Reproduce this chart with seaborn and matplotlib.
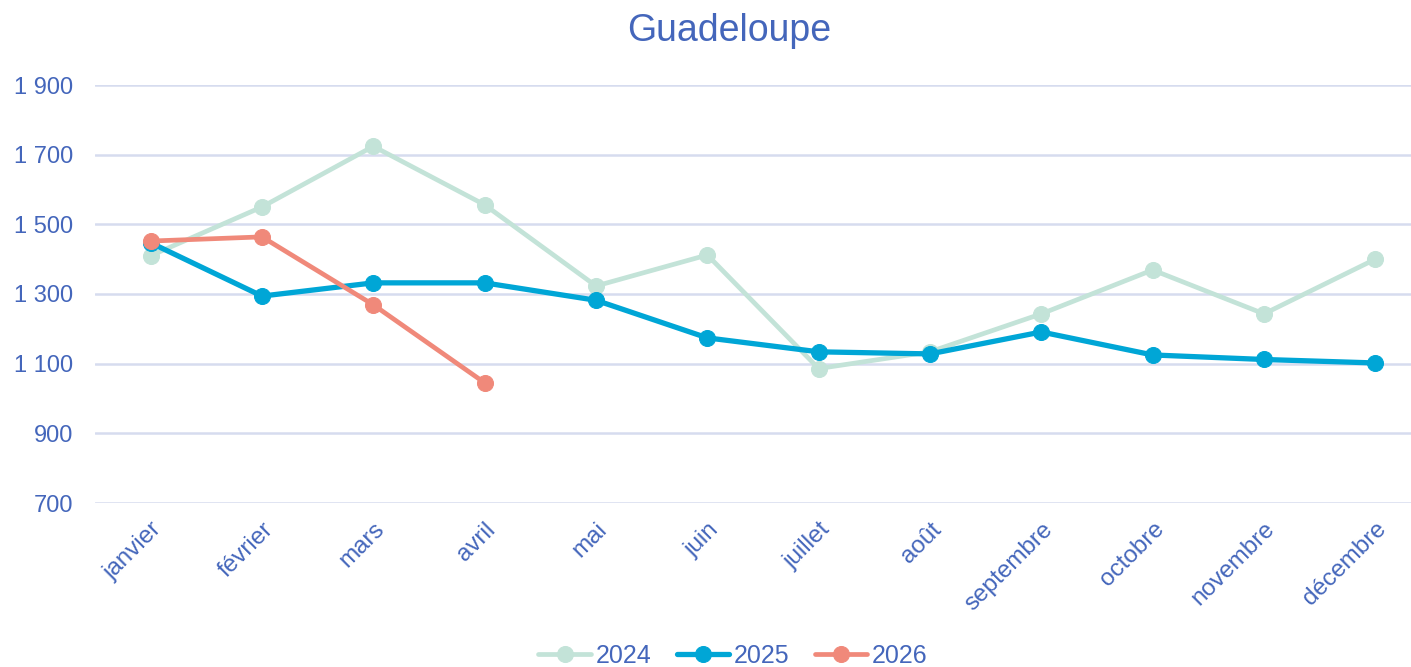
import pandas as pd
import matplotlib
matplotlib.use("Agg")
import matplotlib.pyplot as plt
import seaborn as sns

months = ["janvier", "février", "mars", "avril", "mai", "juin", "juillet",
          "août", "septembre", "octobre", "novembre", "décembre"]
v2024 = [1410, 1550, 1724, 1556, 1323, 1412, 1086, 1134, 1243, 1369, 1243, 1400]
v2025 = [1447, 1294, 1332, 1332, 1282, 1174, 1134, 1128, 1191, 1125, 1112, 1102]
v2026 = [1452, 1464, 1269, 1045]
yticks = [700, 900, 1100, 1300, 1500, 1700, 1900]

text_col = "#4466BB"
colors = {"2024": "#C3E3D8", "2025": "#00A6D6", "2026": "#F0897A"}

sns.set_style("white")
plt.rcParams["font.family"] = ["Liberation Sans", "DejaVu Sans"]

fig = plt.figure(figsize=(14.11, 6.67), dpi=100)
ax = fig.add_axes([95 / 1411, 164 / 667, 1336 / 1411, 418 / 667])

df24 = pd.DataFrame({"mois": months, "val": v2024})
df25 = pd.DataFrame({"mois": months, "val": v2025})
df26 = pd.DataFrame({"mois": months[:len(v2026)], "val": v2026})

sns.lineplot(data=df24, x="mois", y="val", ax=ax, color=colors["2024"], lw=3.4,
             marker="o", ms=11.5, mec=colors["2024"], sort=False, label="2024", zorder=3)
sns.lineplot(data=df25, x="mois", y="val", ax=ax, color=colors["2025"], lw=3.8,
             marker="o", ms=11.5, mec=colors["2025"], sort=False, label="2025", zorder=4)
sns.lineplot(data=df26, x="mois", y="val", ax=ax, color=colors["2026"], lw=3.4,
             marker="o", ms=11.5, mec=colors["2026"], sort=False, label="2026", zorder=5)

ax.set_xlim(-0.5, 11.5)
ax.set_ylim(700, 1900)
ax.set_yticks(yticks)
ax.set_yticklabels([f"{t:,}".replace(",", " ") for t in yticks])
ax.yaxis.grid(True, color="#D6DCEF", lw=1.8)
ax.set_axisbelow(True)
for s in ax.spines.values():
    s.set_visible(False)
ax.set_xlabel("")
ax.set_ylabel("")
ax.tick_params(axis="y", colors=text_col, labelsize=17, length=0, pad=16)
ax.tick_params(axis="x", colors=text_col, labelsize=17.5, length=0, pad=11)
plt.setp(ax.get_xticklabels(), rotation=45, ha="right", rotation_mode="anchor")

fig.text(729 / 1411, 1 - 31 / 667, "Guadeloupe", ha="center", va="center",
         fontsize=27, color=text_col)

leg = ax.legend(loc="center", bbox_to_anchor=(638 / 1336, -0.365), ncol=3, frameon=False,
                fontsize=18, handlelength=2.1, handletextpad=0.2, columnspacing=1.0,
                borderaxespad=0)
for t in leg.get_texts():
    t.set_color(text_col)

fig.savefig("out.png", dpi=100)
